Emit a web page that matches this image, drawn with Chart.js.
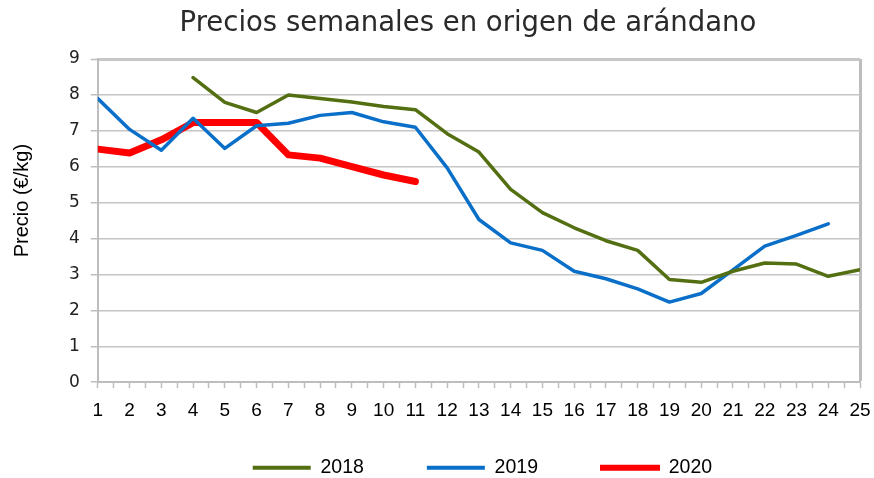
<!DOCTYPE html>
<html>
<head>
<meta charset="utf-8">
<script src="https://cdn.jsdelivr.net/npm/chart.js@4"></script>
<style>
html,body{margin:0;padding:0;background:#fff;}
#wrap{width:874px;height:478px;position:relative;}
</style>
</head>
<body>
<div id="wrap"><canvas id="c" width="874" height="478"></canvas></div>
<script>
const chartTitle = 'Precios semanales en origen de arándano';
const yAxisTitle = 'Precio (€/kg)';
const weeks = [1,2,3,4,5,6,7,8,9,10,11,12,13,14,15,16,17,18,19,20,21,22,23,24,25];
const seriesNames = ['2018','2019','2020'];
const precios2018 = [null,null,null,8.48,7.79,7.51,8.00,7.90,7.80,7.68,7.59,6.92,6.41,5.37,4.72,4.30,3.94,3.67,2.86,2.78,3.09,3.32,3.29,2.95,3.13];
const precios2019 = [7.90,7.04,6.46,7.35,6.51,7.14,7.21,7.43,7.51,7.25,7.10,5.97,4.53,3.88,3.67,3.09,2.88,2.60,2.23,2.47,3.13,3.79,4.09,4.41,null];
const precios2020 = [6.49,6.38,6.75,7.23,7.23,7.23,6.33,6.24,6.00,5.77,5.59,null,null,null,null,null,null,null,null,null,null,null,null,null,null];
const yTicks = [0,1,2,3,4,5,6,7,8,9];

const colors = ['#546f12','#0a6fc8','#ff0000'];
const widths = [3.5,3.5,7];

function toPoints(vals){ return weeks.map((w,i)=>({x:w,y:vals[i]})); }
const allSeries = [precios2018, precios2019, precios2020];

const datasets = allSeries.map((vals,i)=>({
  label: seriesNames[i],
  data: toPoints(vals),
  borderColor: colors[i],
  backgroundColor: colors[i],
  borderWidth: widths[i],
  pointRadius: 0,
  tension: 0,
  fill: false,
  borderCapStyle: 'round',
  borderJoinStyle: 'round',
  spanGaps: false
}));

// Layout tweaks for legend (compact height, wide spacing), title and y-axis title offsets
const LEGEND_HEIGHT = 45;
const LEGEND_ITEM_TOP = 25;
const LEGEND_DX = 3.5;
const TITLE_DX = -11;
const YTITLE_DY = -20;
const layoutTweak = {
  id: 'layoutTweak',
  afterInit(chart) {
    const lg = chart.legend;
    if (lg && !lg.__tweaked) {
      lg.__tweaked = true;
      const origFit = lg.fit;
      lg.fit = function() {
        origFit.call(this);
        if (this.isHorizontal()) this.height = LEGEND_HEIGHT;
      };
      const origDraw = lg._draw;
      lg._draw = function() {
        const t = this.top, l = this.left, r = this.right;
        const pad = this.options.labels.padding;
        this.top = t + LEGEND_ITEM_TOP - pad;
        this.left = l + LEGEND_DX;
        this.right = r + LEGEND_DX;
        origDraw.call(this);
        this.top = t; this.left = l; this.right = r;
      };
    }
    const tb = chart.titleBlock;
    if (tb && !tb.__tweaked) {
      tb.__tweaked = true;
      const origTDraw = tb.draw;
      tb.draw = function() {
        const l = this.left, r = this.right;
        this.left = l + TITLE_DX; this.right = r + TITLE_DX;
        origTDraw.call(this);
        this.left = l; this.right = r;
      };
    }
  }
};

function shiftYTitle(scale) {
  if (scale.__titleShifted) return;
  scale.__titleShifted = true;
  const orig = scale.drawTitle;
  scale.drawTitle = function() {
    const t = this.top, b = this.bottom;
    this.top = t + YTITLE_DY; this.bottom = b + YTITLE_DY;
    orig.call(this);
    this.top = t; this.bottom = b;
  };
}

new Chart(document.getElementById('c'), {
  type: 'line',
  data: { datasets },
  plugins: [layoutTweak],
  options: {
    responsive: false,
    animation: false,
    layout: { padding: { left: 10, right: 14, top: 4, bottom: 0 } },
    plugins: {
      title: {
        display: true,
        text: chartTitle,
        fullSize: false,
        color: '#2a2a2a',
        font: { family: 'DejaVu Sans', size: 27.5, weight: 'normal' },
        padding: { top: 3, bottom: 19 }
      },
      legend: {
        position: 'bottom',
        fullSize: false,
        labels: {
          boxWidth: 58,
          boxHeight: 4,
          padding: 63,
          color: '#111',
          font: { family: 'Liberation Sans', size: 19.5 },
          generateLabels: (chart) => chart.data.datasets.map((ds,i)=>({
            text: ds.label,
            fillStyle: ds.borderColor,
            strokeStyle: ds.borderColor,
            lineWidth: i===2 ? 2 : 0,
            hidden: false,
            datasetIndex: i
          }))
        }
      },
      tooltip: { enabled: false }
    },
    scales: {
      x: {
        type: 'linear',
        min: weeks[0],
        max: weeks[weeks.length-1],
        afterBuildTicks: (scale) => {
          const t = [];
          for (let v = weeks[0]; v <= weeks[weeks.length-1] + 1e-9; v += 0.5) t.push({value: v});
          scale.ticks = t;
        },
        afterFit: (scale) => { scale.paddingRight = 0; scale.paddingLeft = 0; },
        ticks: {
          autoSkip: false,
          maxRotation: 0,
          color: '#000',
          padding: 11,
          font: { family: 'Liberation Sans', size: 19 },
          callback: (v) => Number.isInteger(v) ? String(weeks[v-1]) : ''
        },
        grid: {
          drawOnChartArea: true,
          color: (ctx) => (ctx.tick && ctx.tick.value === weeks[weeks.length-1]) ? '#bdbdbd' : 'rgba(0,0,0,0)',
          lineWidth: (ctx) => (ctx.tick && ctx.tick.value === weeks[weeks.length-1]) ? 3 : 1,
          tickColor: '#bdbdbd',
          tickLength: 6,
          tickWidth: 1.5
        },
        border: { color: '#bdbdbd', width: 2 }
      },
      y: {
        min: 0,
        max: 9,
        afterBuildTicks: (scale) => { scale.ticks = yTicks.map(v=>({value:v})); },
        afterFit: (scale) => shiftYTitle(scale),
        ticks: {
          color: '#222',
          padding: 11,
          font: { family: 'DejaVu Sans', size: 17 }
        },
        grid: {
          color: '#c6c6c6',
          lineWidth: (ctx) => (ctx.tick && ctx.tick.value === 9) ? 3 : 1.5,
          tickColor: '#bdbdbd',
          tickLength: 7,
          tickWidth: 1.5
        },
        border: { color: '#bdbdbd', width: 2 },
        title: {
          display: true,
          text: yAxisTitle,
          color: '#000',
          font: { family: 'Liberation Sans', size: 20 },
          padding: { top: 0, bottom: 24 }
        }
      }
    }
  }
});
</script>
</body>
</html>
